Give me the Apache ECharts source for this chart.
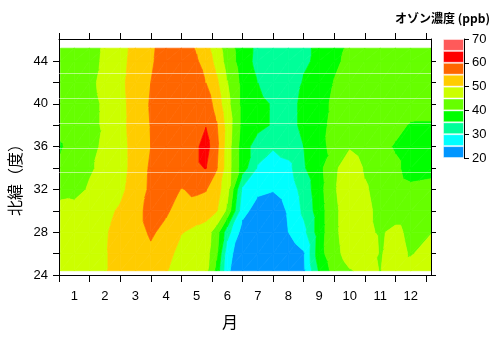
<!DOCTYPE html>
<html><head><meta charset="utf-8">
<script src="https://cdn.jsdelivr.net/npm/echarts@6/dist/echarts.min.js"></script>
<style>html,body{margin:0;padding:0;background:#fff}#c{width:500px;height:343px}</style>
</head><body><div id="c"></div>
<script>
// grid nodes: month (x) and latitude (y)
const months = [0.55, 1, 1.5, 2, 2.5, 3, 3.5, 4, 4.5, 5, 5.3, 5.65, 6, 6.5, 7, 7.5, 8, 8.5, 9, 9.5, 10, 10.5, 11, 11.5, 12, 12.66];
const latitudes = [24.4, 26, 28, 30, 32, 34, 36, 38, 40, 42, 44, 45.2];
// ozone (ppb), one row per latitude
const oz24 = [48, 48.5, 49, 49.8, 51, 52, 52.5, 50.5, 46, 46, 46.5, 38.5, 26, 21, 20.5, 20.5, 21, 24, 35.5, 42, 44.7, 46, 44.9, 46.5, 47, 48];
const oz26 = [48, 48.5, 49, 49.8, 50.8, 52.5, 54.3, 52, 48, 46.5, 47, 41, 27, 21.5, 21, 21, 22, 24.5, 38, 43.5, 47, 47.5, 44.7, 46.5, 44.6, 47];
const oz28 = [47.5, 48, 48.5, 49.7, 51, 53.5, 55.5, 54, 50.3, 48.5, 47.5, 42.5, 32, 23, 21.5, 21.5, 25, 28.5, 37.5, 44, 47.5, 46, 44.5, 46, 44, 44.8];
const oz30 = [47, 46.5, 48, 49, 50.5, 53.5, 56.5, 55.5, 53.5, 53, 52.5, 50.3, 44, 26.5, 23, 22.5, 25.5, 31, 37.5, 44, 47.5, 46, 44, 43, 43, 43];
const oz32 = [43, 43.5, 45.5, 46.5, 49, 52, 56, 58, 54.8, 55.8, 55.3, 52, 47, 29, 26, 25.3, 27, 32, 38, 44.5, 48, 45.5, 43.5, 42, 41, 41.5];
const oz34 = [41, 42.5, 44.5, 46, 48.5, 51.5, 55.8, 58.5, 59, 59.3, 60.2, 55.5, 47.5, 37.5, 29.5, 27.5, 28.5, 34.5, 38.5, 44, 48, 44.5, 43, 41, 38, 38.5];
const oz36 = [39.5, 42, 43.5, 46, 48.5, 51.5, 55, 58.5, 59, 59.3, 62, 56.5, 47.5, 37.5, 32.5, 30.5, 32.5, 35, 39, 41, 44.5, 42.5, 41.5, 39.5, 38, 38.5];
const oz38 = [41.5, 42.7, 44, 45.5, 48.7, 51.8, 55.2, 58.5, 59.3, 59.5, 59.8, 55.5, 48, 38.5, 36.5, 34.5, 33.5, 36, 38.5, 41.3, 42, 42.5, 42.5, 41.5, 39.5, 39.5];
const oz40 = [41.5, 42.5, 44, 45.5, 48.8, 51.7, 55.5, 58.5, 59.5, 59.5, 58, 53, 46.5, 38.5, 36.5, 34.5, 33.5, 36, 38.5, 40.8, 41.5, 42, 42.5, 42.5, 42.5, 42];
const oz42 = [41.5, 42.5, 44.2, 46, 49, 52, 55, 58, 59, 58, 55, 51, 45.2, 38.5, 35, 32, 31.5, 35.5, 37.5, 40.2, 41.3, 42, 42.5, 42.5, 42.5, 42];
const oz44 = [41.5, 42.5, 44, 45.5, 48.7, 51.5, 54.3, 57.5, 58, 55.5, 53, 48.5, 43, 37.5, 33.5, 31, 30.5, 34.2, 36, 39.2, 41, 42, 42.5, 42.5, 42.5, 42];
const oz45 = [41.5, 42.5, 44, 45.4, 48.5, 51.3, 54, 57.5, 57, 54.6, 51.5, 47.5, 42.5, 37.5, 33.8, 31.5, 31, 34.2, 35.8, 38.5, 40.8, 42, 42.5, 42.5, 42.5, 42];
const ozone = [oz24, oz26, oz28, oz30, oz32, oz34, oz36, oz38, oz40, oz42, oz44, oz45];

const levels = [20, 25, 30, 35, 40, 45, 50, 55, 60, 65, 70];
const levelColors = ['#0096ff', '#00ffff', '#00ff99', '#00ff00', '#66ff00', '#ccff00', '#ffcc00', '#ff6600', '#ff0000', '#ff5a5a'];
const monthTicks = [0.5, 1.5, 2.5, 3.5, 4.5, 5.5, 6.5, 7.5, 8.5, 9.5, 10.5, 11.5, 12.5];
const monthLabels = [1, 2, 3, 4, 5, 6, 7, 8, 9, 10, 11, 12];
const latTicks = [24, 26, 28, 30, 32, 34, 36, 38, 40, 42, 44];
const latLabels = [24, 28, 32, 36, 40, 44];
const seamLats = [33.56, 35.84, 38.18, 40.51, 42.85];

const NUM_FONT = '"Liberation Sans", Arial, sans-serif';
const CJK_FONT = '"Noto Sans CJK JP", sans-serif';

function clipPoly(poly, f) {
  const out = [];
  for (let i = 0; i < poly.length; i++) {
    const a = poly[i], b = poly[(i + 1) % poly.length];
    const fa = f(a), fb = f(b);
    if (fa >= 0) out.push(a);
    if ((fa >= 0) !== (fb >= 0)) {
      const t = fa / (fa - fb);
      out.push([a[0] + t * (b[0] - a[0]), a[1] + t * (b[1] - a[1]), a[2] + t * (b[2] - a[2])]);
    }
  }
  return out;
}

const cells = [];
for (let r = 0; r < latitudes.length - 1; r++)
  for (let c = 0; c < months.length - 1; c++)
    cells.push([months[c], latitudes[r], c, r]);

function renderItem(params, api) {
  const c = api.value(2), r = api.value(3);
  const P = (cc, rr) => { const p = api.coord([months[cc], latitudes[rr]]); return [p[0], p[1], ozone[rr][cc]]; };
  const a = P(c, r), b = P(c + 1, r), d = P(c + 1, r + 1), e = P(c, r + 1);
  const children = [];
  [[a, b, d], [a, d, e]].forEach(tri => {
    for (let i = 0; i < levels.length - 1; i++) {
      const lo = levels[i], hi = levels[i + 1];
      let poly = clipPoly(tri, p => p[2] - lo);
      if (poly.length < 3) continue;
      poly = clipPoly(poly, p => hi - p[2]);
      if (poly.length < 3) continue;
      children.push({
        type: 'polygon', silent: true,
        shape: { points: poly.map(p => [p[0], p[1]]) },
        style: { fill: levelColors[i], stroke: levelColors[i], lineWidth: 0.7 }
      });
    }
  });
  return { type: 'group', children };
}

const axisBase = {
  axisLine: { show: true, lineStyle: { color: '#000', width: 1 } },
  splitLine: { show: false }
};

const chart = echarts.init(document.getElementById('c'), null, { renderer: 'canvas' });
const cbSeries = [{
  type: 'bar', xAxisIndex: 2, yAxisIndex: 2, stack: 'cb', barWidth: '100%',
  data: [levels[0]], itemStyle: { color: 'rgba(0,0,0,0)' }, silent: true
}];
for (let i = 0; i < levels.length - 1; i++) {
  cbSeries.push({
    type: 'bar', xAxisIndex: 2, yAxisIndex: 2, stack: 'cb', barWidth: '100%', silent: true,
    data: [levels[i + 1] - levels[i]],
    itemStyle: { color: levelColors[i], borderColor: 'rgba(255,255,255,0.45)', borderWidth: 1 }
  });
}

chart.setOption({
  animation: false,
  backgroundColor: '#fff',
  grid: [
    { left: 59, top: 39, width: 372, height: 236 },
    { left: 443, top: 39, width: 21, height: 119 }
  ],
  xAxis: [
    Object.assign({}, axisBase, {
      type: 'value', gridIndex: 0, position: 'bottom', min: 0.5, max: 12.66,
      axisTick: { show: true, inside: false, length: 7, customValues: monthTicks, lineStyle: { color: '#000' } },
      axisLabel: { customValues: monthLabels, margin: 15, fontSize: 13, color: '#000', fontFamily: NUM_FONT }
    }),
    Object.assign({}, axisBase, {
      type: 'value', gridIndex: 0, position: 'top', min: 0.5, max: 12.66,
      axisTick: { show: true, inside: false, length: 6, customValues: monthTicks, lineStyle: { color: '#000' } },
      axisLabel: { show: false }
    }),
    { type: 'category', gridIndex: 1, data: [''], show: false }
  ],
  yAxis: [
    Object.assign({}, axisBase, {
      type: 'value', gridIndex: 0, position: 'left', min: 24, max: 46.06,
      axisTick: { show: true, inside: false, length: 6, customValues: latTicks, lineStyle: { color: '#000' } },
      axisLabel: { customValues: latLabels, margin: 11, fontSize: 13, color: '#000', fontFamily: NUM_FONT }
    }),
    Object.assign({}, axisBase, {
      type: 'value', gridIndex: 0, position: 'right', min: 24, max: 46.06,
      axisTick: { show: true, inside: false, length: 5, customValues: latTicks, lineStyle: { color: '#000' } },
      axisLabel: { show: false }
    }),
    Object.assign({}, axisBase, {
      type: 'value', gridIndex: 1, position: 'right', min: 20, max: 70, interval: 10,
      axisTick: { show: true, inside: false, length: 5, lineStyle: { color: '#000' } },
      axisLabel: { margin: 8, fontSize: 13, color: '#000', fontFamily: NUM_FONT }
    })
  ],
  graphic: [
    { type: 'text', right: 10, top: 12, style: { text: 'オゾン濃度 (ppb)', font: 'bold 12px ' + CJK_FONT, fill: '#000' } },
    { type: 'text', x: 15, y: 176, rotation: Math.PI / 2,
      style: { text: '北緯（度）', font: '16px ' + CJK_FONT, fill: '#000', align: 'center', verticalAlign: 'middle', textAlign: 'center', textVerticalAlign: 'middle' } },
    { type: 'text', x: 230, y: 322,
      style: { text: '月', font: '16px ' + CJK_FONT, fill: '#000', align: 'center', verticalAlign: 'middle', textAlign: 'center', textVerticalAlign: 'middle' } }
  ],
  series: [{
    type: 'custom', xAxisIndex: 0, yAxisIndex: 0, clip: true, silent: true,
    renderItem: renderItem, data: cells,
    markLine: {
      silent: true, symbol: ['none', 'none'], label: { show: false }, animation: false,
      lineStyle: { color: 'rgba(255,255,255,0.5)', width: 1, type: 'solid' },
      data: seamLats.map(v => ({ yAxis: v }))
    }
  }].concat(cbSeries)
});
</script>
</body></html>
